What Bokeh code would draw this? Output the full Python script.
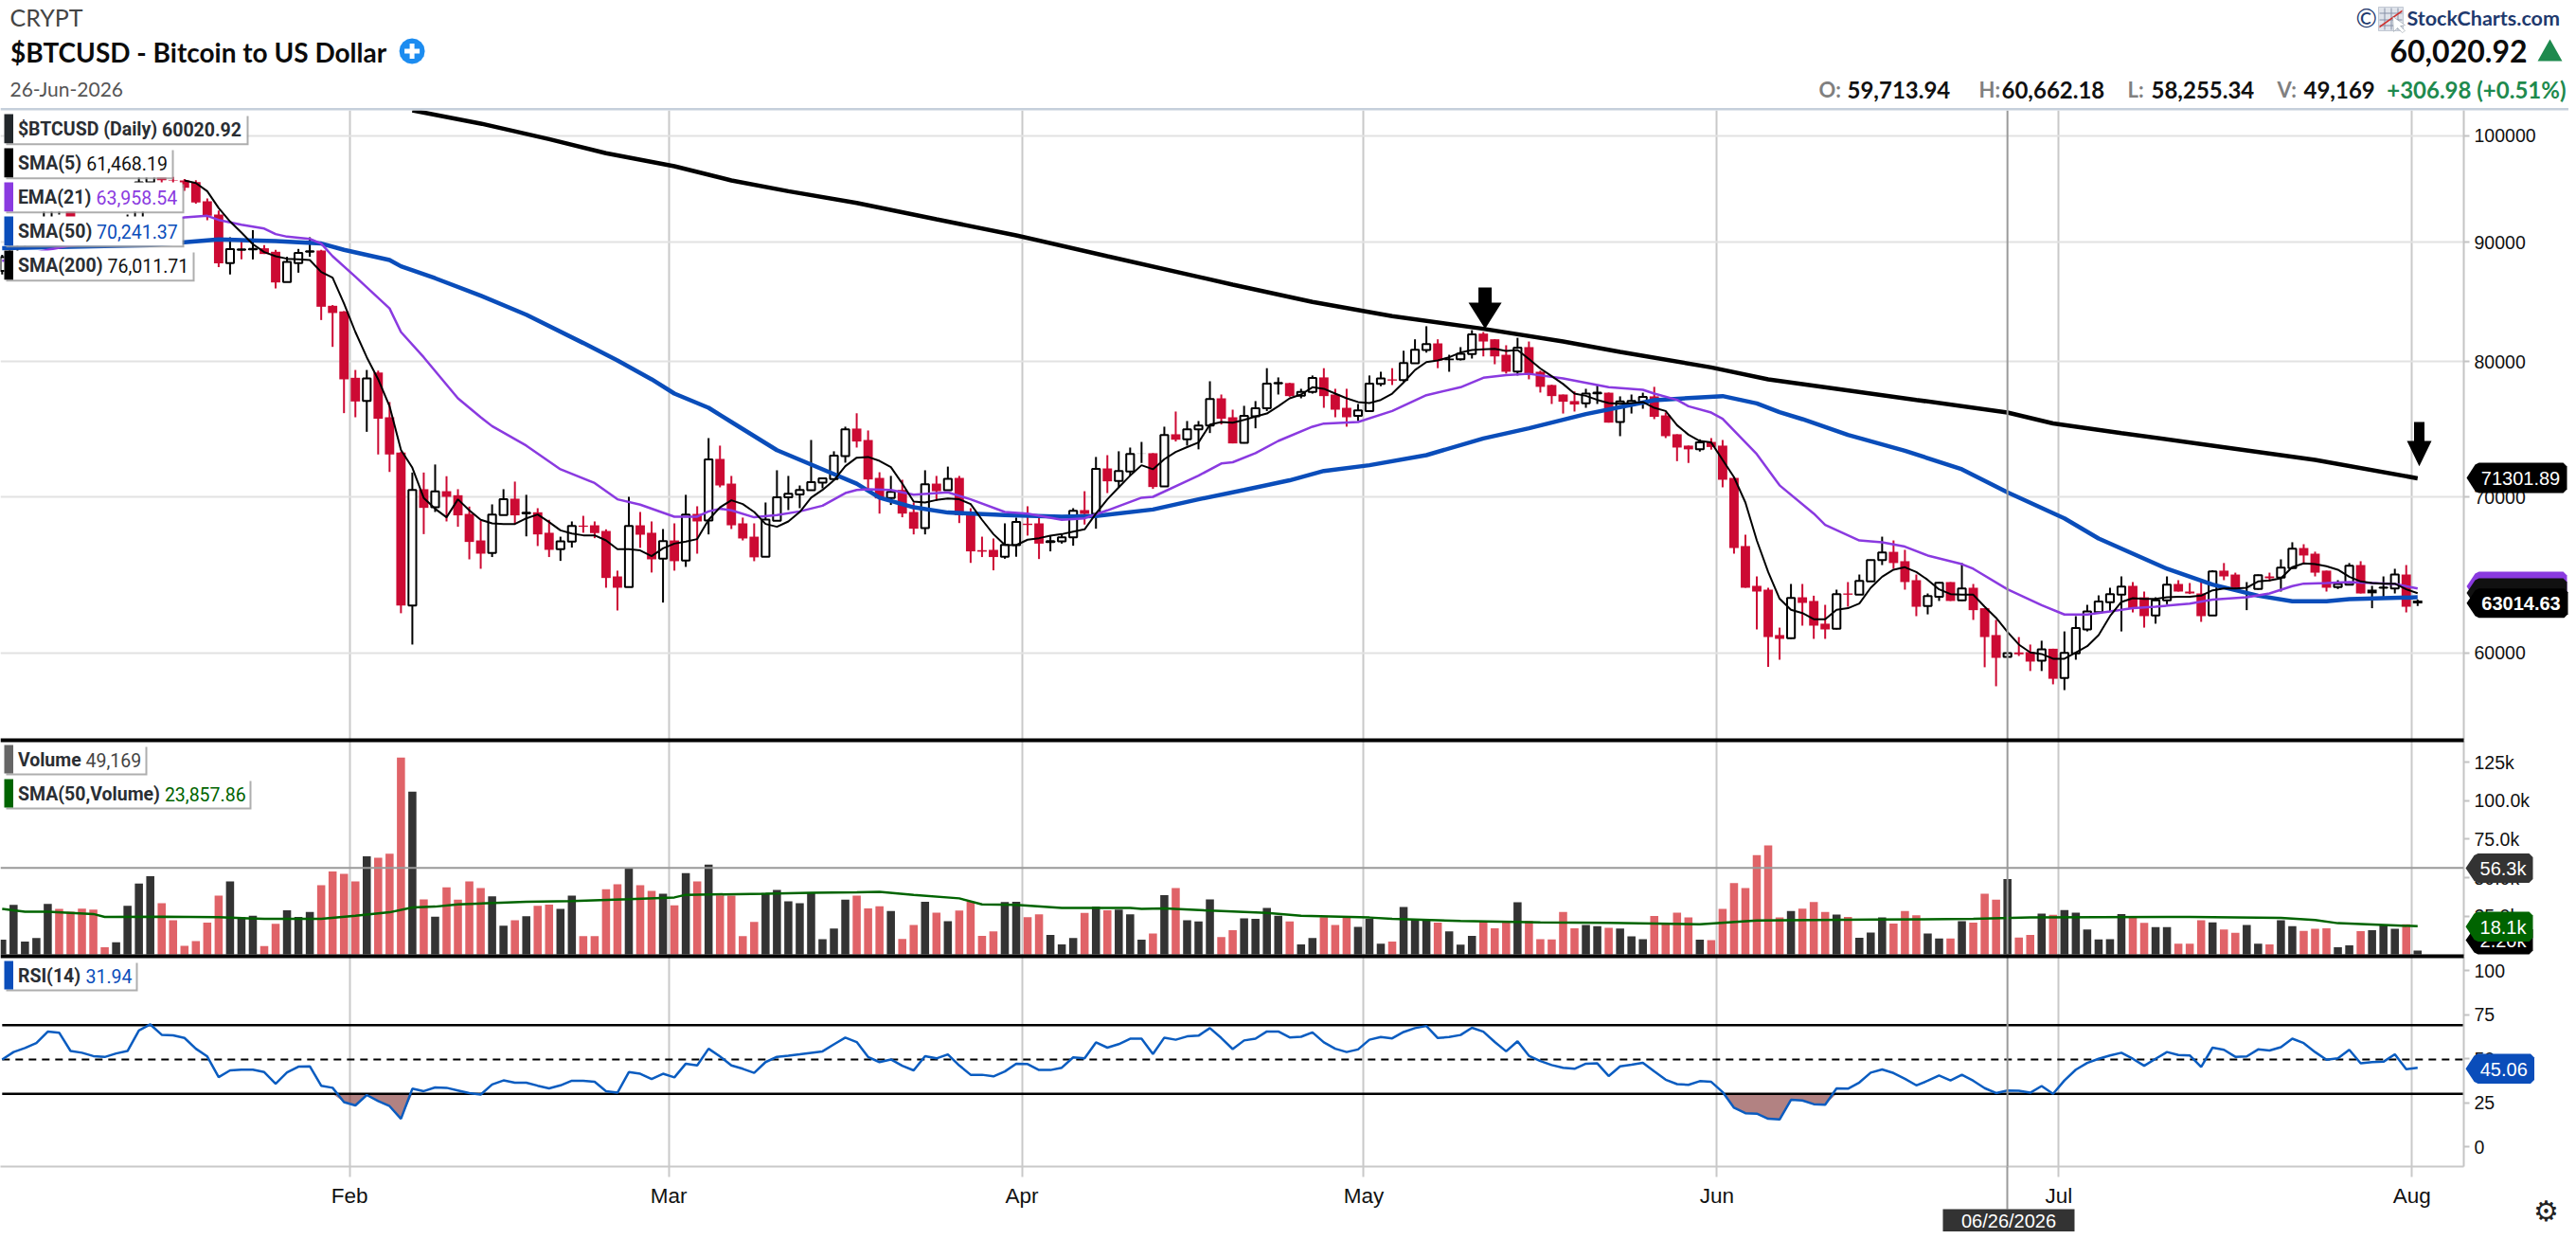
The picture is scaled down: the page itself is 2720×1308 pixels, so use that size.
from bokeh.embed import file_html
from bokeh.resources import INLINE
from bokeh.plotting import figure
from bokeh.layouts import column
from bokeh.models import (Range1d, FixedTicker, Grid, Label, BoxAnnotation, PolyAnnotation, Span,
                          ColumnDataSource)

# ---------- data ----------
opens = [87500,88700,89900,90500,91300,92900,93700,91200,91000,90600,
 90500,90900,91200,95500,96800,95700,95680,95520,93730,92510,
 88175,89340,89380,89480,89170,86540,88175,89180,89280,84540,
 84070,78740,76970,79150,75730,73130,62880,70540,69290,70400,
 70120,68840,67060,66230,68760,69880,68880,68950,67570,66480,
 66980,68050,68070,67690,64720,64040,68070,67570,65860,67060,
 65740,68840,68390,72680,70930,68200,67310,65990,68370,69970,
 70180,70470,71000,71250,72890,74890,74050,71330,69930,70490,
 68970,67880,70930,70470,71330,68930,66420,66440,65990,66750,
 68180,68200,66960,67000,67270,69100,68840,72000,71110,71780,
 73060,73090,70740,74470,74100,74840,75120,77160,75730,73840,
 75800,76400,78300,78330,77350,77640,78770,77450,76440,75830,
 76200,78260,78620,78570,79880,80930,81460,80250,80200,80600,
 82250,81790,80550,79230,81160,79210,78180,77450,76950,76780,
 77540,77590,75380,76680,76880,77310,75870,74470,73640,73370,
 73910,73640,71330,66690,64120,63880,61080,60890,63400,63170,
 61770,61460,63640,63560,64400,65780,66310,65700,64480,62850,
 63440,64360,63210,64000,62720,61080,59780,60040,60060,59550,
 60260,58540,59980,61420,62480,63090,63560,64120,63400,62270,
 63210,64240,63760,63640,62270,65090,64840,64020,63920,64720,
 64640,65250,66560,66190,65090,64040,64200,65450,63880,64000,
 63960,64840,63200]
highs = [88900,90800,90600,91500,93400,94700,94000,92000,91700,91000,
 91200,92500,96300,97000,97100,96000,95800,95700,94000,92880,
 90460,90180,91100,89760,89340,88730,89420,90460,89340,84600,
 84100,79350,79350,79300,76880,73200,71710,71710,72280,71450,
 70540,69340,68390,69490,70540,71070,70150,69230,68440,67310,
 68330,68710,68330,67800,65090,70010,68970,68330,67820,68200,
 70150,69360,74190,73640,71470,68590,68200,69620,71870,71470,
 70800,74050,71290,73230,75030,76030,74750,71730,71470,71200,
 69620,71870,71470,72130,71470,69230,67310,67190,68200,68590,
 69360,68590,67400,67480,69230,70400,72820,72950,73230,73500,
 73910,73100,75030,76160,75450,75450,78470,77450,76300,76590,
 76950,79490,78770,78350,77890,78920,79490,77890,77890,76730,
 78920,79210,79490,80870,81790,82850,81790,80550,81160,82530,
 82380,81800,81310,81910,81610,79300,78200,77450,77690,77890,
 78180,77600,77310,77450,77590,78040,76090,74470,73640,74100,
 74190,74050,71400,67440,64720,64000,61530,64240,64240,63500,
 62930,63880,64360,64840,65800,67310,67060,66440,64840,63640,
 64360,64360,65580,64240,62720,62000,60000,60960,60510,60740,
 60260,61300,62230,62930,63520,64000,64720,64360,63760,63400,
 64720,64480,64300,64480,65120,65580,64960,64360,64840,64960,
 65820,66940,66810,66320,65090,64480,65580,65700,64120,64720,
 65210,65450,63260]
lows = [87200,88300,89400,90000,90900,92500,90800,89700,89600,90100,
 90200,90000,91000,95000,95200,95200,94700,93500,92000,87820,
 87190,88500,88500,88975,86000,86540,87350,88730,83360,81180,
 76040,75730,74650,73000,71750,62410,60510,67480,68970,68330,
 67970,65820,65210,65970,68760,68180,67330,66690,65970,65720,
 66590,67570,67210,64000,62580,64040,66570,64970,63070,65090,
 65330,66190,67460,70670,67820,67060,65700,65990,68370,69100,
 69230,70470,70600,71200,72410,73500,70490,68860,69450,68610,
 67460,67460,69730,70470,68220,65590,65970,65110,65860,65990,
 67380,65840,66340,66850,66710,68120,67840,70270,70670,71490,
 72390,70560,70740,73940,73640,73370,74560,75190,73800,73800,
 74910,76200,77450,77280,77160,77520,76440,75730,75030,75450,
 76200,78090,78180,78420,79880,80720,79490,79210,80100,80250,
 80420,79800,79070,78920,78620,77600,76730,76010,76160,76440,
 76730,75330,74330,76010,76370,75590,74190,72520,72390,73210,
 73350,70670,66190,64000,61420,59190,59610,60850,61650,60850,
 60850,61420,62810,63560,64400,65450,65210,63880,62230,62340,
 63170,63170,63170,62000,59170,58070,59780,59830,58950,58950,
 58180,57850,59610,61300,62480,62500,61300,62460,61530,61770,
 62970,63760,63600,61880,62270,64480,63760,62600,63880,64400,
 63760,65210,65510,64720,63760,63920,64200,63640,62720,63400,
 63640,62460,62850]
closes = [88700,89900,90500,91300,92900,93700,91200,91000,90600,90500,
 90900,91200,95500,96800,95700,95650,94990,93610,92390,88150,
 89395,89380,89420,88975,86510,88290,89060,89220,84460,83940,
 78620,76920,78690,75620,73000,62880,70490,69250,70380,70010,
 68740,66960,66190,68800,69840,68740,68920,67460,66440,67000,
 68030,67970,67550,64620,64000,68030,67440,65820,67020,65700,
 68800,68330,72640,70800,68070,67190,65950,68460,69970,70230,
 70490,71030,71290,72910,74840,73940,71220,69900,70360,68860,
 67840,70890,70400,71260,68760,66340,66320,65970,66770,68290,
 68090,66850,67020,67270,69050,68840,71960,71090,71820,73040,
 73050,70690,74420,74070,74840,75120,77110,75620,73800,75830,
 76400,78280,78340,77330,77640,78720,77330,76300,75730,76250,
 78280,78690,78520,79900,80950,81410,80100,80120,80630,82180,
 81610,80420,79210,81110,79070,78040,77330,76900,76690,77520,
 77590,75330,76920,76970,77260,75760,74330,73500,73370,73870,
 73540,71200,66560,64000,63760,60960,60850,63360,63050,61650,
 61420,63600,63560,64440,65780,66270,65580,64360,62810,63480,
 64320,63170,63960,62600,60960,59720,60000,59930,59500,60220,
 58500,60020,61500,62520,63130,63600,64080,62720,62230,63210,
 64200,63760,63640,62230,65040,64720,64000,64010,64800,64600,
 65290,66520,66070,64960,64000,64240,65410,63640,63650,64020,
 64840,62810,63014]

sma5_first_day = 16
sma5 = [95680,95430,94660,93100,91880,90880,89840,89140,88780,88560,88510,88450,87410,86920,
 84730,82380,80350,78620,76560,73330,72050,69930,69190,68610,69840,69080,68440,68200,68160,68160,
 68540,68800,68290,67730,67520,67400,67400,67060,66480,66480,66400,66030,66540,66850,66980,67150,
 68440,69290,69770,69510,68970,68160,67970,68330,68970,69950,70490,71160,72160,72770,72820,72540,
 72090,70930,69680,69620,69790,69900,69840,69510,68440,67480,66770,66750,67110,67210,67380,67480,
 67650,67800,68860,69840,70670,71490,72230,71940,72660,73180,73530,73870,75190,75380,75330,75540,
 75780,76010,76560,77160,77450,78010,77890,77520,77160,76880,76800,77040,77520,78380,79350,79970,
 80100,80350,80730,80930,80980,81030,80850,80930,80220,79470,78860,78260,77520,77350,77040,76800,
 76750,76800,76880,76440,76200,75140,74440,73980,73870,72610,71380,69620,67060,65000,63310,62620,
 62420,62040,62040,62620,62720,63010,64000,64700,65150,65310,65000,64500,63900,63600,63560,63560,
 62810,62130,61270,60510,60040,59950,59670,59670,60040,60410,61080,62230,63110,63340,63300,63300,
 63400,63440,63440,63500,63840,63960,63960,64000,64400,64460,64600,65310,65560,65510,65370,65150,
 64700,64400,64300,64260,64260,63900,63660]

ema21_days = [0,4,7,16,18,19,21,23,24,25,27,28,29,31,34,35,37,40,42,43,46,49,52,54,56,59,61,62,63,64,66,68,70,72,74,
 75,76,78,80,83,85,88,90,93,95,97,100,101,105,107,108,110,112,115,116,119,122,125,128,130,132,134,137,141,144,145,147,148,150,
 151,154,156,159,160,163,165,167,169,172,173,176,179,181,183,185,187,189,192,194,197,199,201,202,204,206,208,210,212]
ema21 = [88370,89340,89900,92250,92390,92020,91590,91240,90740,90510,90310,89900,88780,87000,84320,82380,80350,77160,75730,75070,73640,71940,70970,69840,69470,68650,68650,69010,69190,69080,68610,68760,69010,69400,70270,
 70490,70540,70490,70160,70320,69840,68970,68860,68440,68540,69080,69950,70010,71490,72350,72440,73090,73980,75030,75260,75380,76200,77400,78010,78740,78950,79050,78690,78010,77810,77520,77040,76560,76080,
 75620,73020,70810,68860,68100,67060,66940,66650,66070,65510,65210,63900,62910,62330,62330,62520,62720,62810,63010,63260,63400,63640,64100,64260,64300,64360,64300,64240,63958]

sma50_days = [0,13,19,24,28,30,34,35,38,42,46,51,54,57,59,62,64,68,73,75,77,80,83,88,93,96,101,105,109,113,116,120,125,130,134,139,145,151,154,156,158,162,167,172,176,181,184,190,194,198,201,204,206,212]
sma50 = [89480,89760,90260,90120,89900,89340,88450,87900,86870,85390,83800,81490,80100,78620,77520,76440,75380,73310,71600,70920,69950,69290,68930,68760,68650,68700,69140,69840,70490,71160,71820,72230,72950,74160,74910,75970,77020,77330,76770,76110,75590,74420,73270,71940,70320,68540,67190,65210,64200,63500,63150,63150,63280,63400]

sma200_days = [36,42,48,53,59,64,69,75,82,89,97,108,115,122,130,137,142,150,155,161,168,176,180,186,194,203,212]
sma200 = [102530,101200,99660,98280,97030,95680,94660,93570,92080,90630,88780,86325,84860,83675,82640,81610,80780,79550,78620,77890,77040,76090,75270,74560,73640,72610,71302]

volume_k = [9.5,32.2,8.4,10.6,32.8,29.6,27.8,29.8,29.1,4.7,7.8,31.7,46.2,50.9,33.4,22.2,5.6,8.6,20.7,38.2,
 47.5,24.2,25.2,5.4,19.9,28.7,24.4,27.6,45.1,54.0,52.4,47.5,63.9,63.0,65.6,128.2,106.0,35.8,24.6,43.6,
 35.6,47.5,43.2,37.8,18.6,22.2,24.8,31.7,32.4,29.6,38.2,11.9,11.9,42.5,45.7,56.1,45.1,41.4,39.5,31.9,
 52.9,47.5,58.5,38.4,38.2,11.9,21.1,39.9,41.9,34.5,33.4,40.1,9.9,16.8,35.6,
 38.2,30.0,31.3,28.3,10.1,19.2,34.3,27.2,21.6,28.5,34.3,12.1,14.9,34.1,34.3,24.2,26.1,12.7,6.5,10.6,
 27.0,31.1,28.7,29.1,26.1,9.5,13.6,38.6,43.2,22.2,21.4,35.8,11.2,15.8,23.5,23.1,30.2,25.2,21.4,6.5,
 10.6,24.2,19.2,24.2,17.9,23.1,6.9,8.4,30.9,23.1,22.4,20.7,14.9,6.3,12.1,21.6,17.0,20.9,33.9,21.8,
 9.9,9.7,27.6,17.0,19.2,18.3,17.3,16.8,11.7,9.9,25.0,19.9,27.2,24.0,9.5,
 9.3,29.6,46.4,43.2,64.7,71.0,24.0,28.3,29.8,34.1,27.6,25.9,24.4,10.8,14.2,24.0,20.1,28.3,25.5,13.6,
 10.4,10.4,21.6,20.7,39.5,35.6,49.0,11.0,12.7,26.5,25.7,28.9,27.2,16.2,9.7,9.9,26.3,24.0,20.5,17.7,
 17.7,6.9,6.9,22.2,20.9,16.2,14.0,19.2,6.9,6.5,22.2,18.3,15.3,16.6,17.0,4.7,5.8,15.1,15.8,18.8,
 16.6,19.6,2.4]
volume_side = ("kkkkkrrrrrkkkkrrrrrr" "kkkrrkkkrrrrkrrrkrkr" "rrrkkrkrrkkrrrrkrrkr" "krkrrrrkkkkkkkk"
               "rrrkrrkrkrrrrkkrrkkk" "rkrkkkrkrkkkrrkkkkrk" "krrrkkkrkkkrkkkrrrkr" "rrrrkkrkkkrrrrk"
               "rrrrrrrkrrrkrkkkrrrk" "krkrrrkrrkrkkkkkkrrk" "krrrkrrkkrkkrrrkkrkk" "krk")

vol_sma_days = [0,2,4,8,9,14,19,23,28,31,34,36,38,40,46,50,55,59,60,67,71,75,77,80,84,86,89,93,99,100,102,106,111,114,120,122,128,135,141,149,154,164,173,178,184,192,200,203,205,212]
vol_sma_k = [29.6,27.8,27.8,26.3,24.4,24.6,24.2,23.1,23.1,25.2,27.4,30.6,31.1,32.6,34.3,34.7,36.0,37.1,38.8,39.5,40.1,40.4,40.8,38.8,36.5,32.6,32.2,30.2,30.2,29.6,30.0,28.5,27.0,25.2,24.0,23.1,21.8,20.9,20.5,19.6,22.0,22.7,23.1,24.0,24.2,24.4,23.7,22.4,20.3,18.3]

rsi = [49.6,53.8,56.1,58.9,65.4,64.8,54.4,53.4,51.5,51.0,53.0,54.4,66.1,69.5,63.6,63.3,61.8,55.7,51.3,39.6,
 43.4,43.8,43.8,42.4,35.8,42.2,45.5,45.7,34.7,33.5,25.4,23.5,29.4,26.0,23.1,15.9,33.0,31.6,33.7,33.5,
 32.0,30.5,29.7,35.4,37.7,36.4,36.4,34.7,33.2,34.9,37.5,37.5,36.9,31.6,30.7,42.4,41.5,38.5,41.5,39.4,
 47.2,46.2,55.7,51.3,46.2,44.3,42.0,48.1,51.1,51.7,52.5,53.4,54.2,58.2,62.0,
 59.5,51.0,48.1,49.6,46.0,43.4,51.5,50.2,52.5,46.2,40.9,40.9,40.0,42.8,47.2,47.0,43.6,43.6,44.9,50.8,
 50.2,59.3,56.3,58.3,61.4,61.4,52.7,62.0,60.8,62.7,63.1,67.4,61.8,55.5,60.4,61.4,65.5,65.5,62.1,62.5,
 65.0,59.3,55.7,53.8,55.3,60.8,62.3,61.6,65.2,67.4,68.6,61.8,62.3,63.5,67.6,65.4,59.5,54.2,59.9,51.7,
 48.7,46.4,44.9,44.3,47.2,47.4,40.2,45.7,46.6,47.7,42.8,38.1,35.6,35.2,37.3,
 36.9,31.1,22.2,19.1,18.8,15.9,15.5,26.7,26.3,24.2,23.9,33.2,33.0,36.5,42.1,43.9,41.9,38.6,34.9,37.5,
 40.5,37.7,40.9,37.5,33.3,30.5,32.0,31.8,30.7,34.5,30.1,37.7,43.8,47.6,50.0,51.9,53.4,50.0,46.0,50.0,
 53.8,52.1,51.9,45.3,56.3,55.1,51.1,51.3,55.3,54.7,56.6,61.4,58.9,53.8,49.4,50.2,55.1,47.4,48.1,48.3,
 52.5,44.1,44.9]
rsi_levels = [30.1, 49.6, 69.1]

price_ticks = [60000, 70000, 80000, 90000, 100000]
volume_ticks = [25, 50, 75, 100, 125]
volume_tick_labels = ["25.0k", "50.0k", "75.0k", "100.0k", "125k"]
rsi_ticks = [0, 25, 50, 75, 100]
month_edges = [30.5, 58.5, 89.5, 119.5, 150.5, 180.5, 211.5]
month_names = ["Feb", "Mar", "Apr", "May", "Jun", "Jul", "Aug"]
volume_reference_k = 56.3
crosshair_day = 176

# ---------- styling ----------
W = 2712
H = 1300
FRAME_R = 111
X_RANGE = Range1d(-0.15, 216.05)
GRID = "#c9c9c9"
HGRID = "#e2e2e2"
AXIS = "#c4c4c4"
RED = "#cc0a33"
BLUE = "#0a4dba"
PURPLE = "#8a3ae0"
GREEN = "#006400"
FG = "#2a2e33"
AX_FONT = "Liberation Sans"
LF = "Lato"


def base(height, bottom=0, x_loc=None, y_type="linear", y_range=(0, 1)):
    p = figure(width=W, height=height, x_range=X_RANGE, y_range=y_range, y_axis_type=y_type,
               y_axis_location="right", x_axis_location=x_loc, toolbar_location=None,
               output_backend="svg", min_border_left=0, min_border_right=FRAME_R,
               min_border_top=0, min_border_bottom=bottom, outline_line_color=None)
    p.xgrid.grid_line_color = None
    p.ygrid.grid_line_color = None
    return p


# a transparent sheet over the whole page holds the value tags, legends and header texts
over = figure(frame_width=W, frame_height=H, width=W, height=H, x_range=(0, 1), y_range=(0, 1),
              x_axis_location=None, y_axis_location=None, toolbar_location=None, output_backend="svg",
              min_border_left=0, min_border_right=0, min_border_top=0, min_border_bottom=0,
              outline_line_color=None, background_fill_alpha=0, border_fill_alpha=0,
              styles={"position": "absolute", "left": "0px", "top": "0px", "width": f"{W}px", "z-index": "10"})
over.xgrid.grid_line_color = None
over.ygrid.grid_line_color = None


def box(l, r, t, b, color, alpha=1.0, line=None):
    over.add_layout(BoxAnnotation(left=l, right=r, top=t, bottom=b,
                                  left_units="canvas", right_units="canvas", top_units="canvas", bottom_units="canvas",
                                  fill_color=color, fill_alpha=alpha, line_color=line, level="annotation"))


def poly(xs, ys, color, line=None):
    over.add_layout(PolyAnnotation(xs=list(xs), ys=list(ys), xs_units="canvas", ys_units="canvas",
                                   fill_color=color, fill_alpha=1, line_color=line, level="annotation"))


def text(x, y, s, size, color, font="Roboto", style="normal", align="left"):
    over.add_layout(Label(x=x, y=y, x_units="canvas", y_units="canvas", text=s, text_font=font,
                          text_font_size=f"{size}px", text_color=color, text_font_style=style,
                          text_align=align, text_baseline="middle", level="annotation"))


def legend_box(right, y0, y1, strip, label, value, value_x, value_color, value_style="normal"):
    box(6, right + 2, y0 + 2, y1 + 2, "#9a9a9a", 0.8)
    box(4, right, y0, y1, "white")
    box(4, 13.5, y0, y1, strip)
    mid = (y0 + y1) / 2 + 0.5
    text(18.4, mid, label, 19.5, FG, style="bold")
    text(value_x, mid, value, 19.5, value_color, style=value_style)


def pill(x0, x1, y0, y1, color, s, txt_size=20, style="normal"):
    m = (y0 + y1) / 2
    xs = [x0, x0 + 9, x0 + 13, x1 - 4, x1, x1, x1 - 4, x0 + 13, x0 + 9]
    ys = [m, y0 + 2, y0, y0, y0 + 4, y1 - 4, y1, y1, y1 - 2]
    poly(xs, ys, color)
    if s:
        text((x0 + x1) / 2 + 4, m + 0.5, s, txt_size, "white", font=AX_FONT, style=style, align="center")


def month_grid(p):
    p.add_layout(Grid(dimension=0, ticker=FixedTicker(ticks=month_edges), grid_line_color=GRID, grid_line_width=2))


def style_yaxis(p, ticks, overrides):
    ax = p.yaxis[0]
    ax.ticker = FixedTicker(ticks=ticks)
    ax.major_label_overrides = overrides
    ax.axis_line_color = AXIS
    ax.axis_line_width = 2
    ax.major_tick_line_color = AXIS
    ax.major_tick_line_width = 2
    ax.major_tick_in = 0
    ax.major_tick_out = 6
    ax.minor_tick_line_color = None
    ax.major_label_standoff = 5
    ax.major_label_text_font = AX_FONT
    ax.major_label_text_font_size = "19.5px"
    ax.major_label_text_color = "#111111"


def crosshair(p):
    p.add_layout(Span(location=crosshair_day, dimension="height", line_color="#9a9a9a", line_width=2))


# ---------- header ----------
head = base(116)
head.yaxis[0].visible = False
text(10, 17.5, "CRYPT", 25, "#444444", font=LF)
text(10.5, 54, "$BTCUSD - Bitcoin to US Dollar", 28, "#0c0c0c", font=LF, style="bold")
text(10, 93, "26-Jun-2026", 21, "#555555", font=LF)
circle_r = 13.5
cx, cy = 434.6, 53.5
poly([cx + circle_r * c for c in (1, .924, .707, .383, 0, -.383, -.707, -.924, -1, -.924, -.707, -.383, 0, .383, .707, .924)],
     [cy + circle_r * s for s in (0, .383, .707, .924, 1, .924, .707, .383, 0, -.383, -.707, -.924, -1, -.924, -.707, -.383)],
     "#1c8cf0")
box(cx - 8, cx + 8, cy - 2.5, cy + 2.5, "white")
box(cx - 2.5, cx + 2.5, cy - 8, cy + 8, "white")

text(2487, 17.5, "©", 27, "#1f3a6e", font=LF)
box(2511, 2537, 7, 32, "#dfe3ea", line="#5a6a88")
for gx in (2517, 2524, 2531):
    box(gx, gx + 1, 8, 31, "#8892a8")
for gy in (13, 20, 26):
    box(2512, 2536, gy, gy + 1, "#8892a8")
poly([2512, 2536, 2536, 2512], [27, 10, 12, 29], "#d0312d")
poly([2526, 2539, 2534, 2539, 2536, 2531, 2527], [17, 26, 27, 32, 34, 29, 33], "white", line="#445566")
text(2541, 18, "StockCharts.com", 21.5, "#1f3a6e", font=LF, style="bold")
text(2668, 53.5, "60,020.92", 32, "#0c0c0c", font=LF, style="bold", align="right")
poly([2679, 2692, 2705], [64, 41, 64], "#1e8a4e")
for x, s in ((1920, "O:"), (2089, "H:"), (2246, "L:"), (2404, "V:")):
    text(x, 94, s, 22, "#808080", font=LF, style="bold")
for x, s in ((1950, "59,713.94"), (2113, "60,662.18"), (2271, "58,255.34"), (2432, "49,169")):
    text(x, 94, s, 24, "#111111", font=LF, style="bold")
text(2709, 94, "+306.98 (+0.51%)", 24, "#1e8a4e", font=LF, style="bold", align="right")
box(0, W, 113.5, 116, "#c5cfdb")

# ---------- price panel ----------
price = base(665, y_type="log", y_range=Range1d(55054, 102530))
month_grid(price)
style_yaxis(price, price_ticks, {t: str(t) for t in price_ticks})
price.add_layout(Grid(dimension=1, ticker=FixedTicker(ticks=price_ticks), grid_line_color=HGRID, grid_line_width=2))
crosshair(price)

days = list(range(len(closes)))
prev_closes = [opens[0]] + closes[:-1]
body_colors = ["black" if c >= pc else RED for c, pc in zip(closes, prev_closes)]
is_hollow = [c > o for c, o in zip(closes, opens)]
candles = ColumnDataSource(dict(day=days, open=opens, high=highs, low=lows, close=closes, color=body_colors))
price.segment("day", "high", "day", "low", source=candles, line_color="color", line_width=2)
solid = [i for i in days if not is_hollow[i]]
hollow = [i for i in days if is_hollow[i]]
price.vbar(x=solid, width=0.82, bottom=[min(opens[i], closes[i]) for i in solid],
           top=[max(opens[i], closes[i]) for i in solid], fill_color=[body_colors[i] for i in solid], line_color=None)
price.vbar(x=hollow, width=0.68, bottom=[opens[i] for i in hollow],
           top=[closes[i] for i in hollow], fill_color="white", line_color="black", line_width=2)

price.line(sma200_days, sma200, line_color="black", line_width=4.5)
price.line(sma50_days, sma50, line_color=BLUE, line_width=4.5)
price.line(ema21_days, ema21, line_color=PURPLE, line_width=2.5)
price.line(list(range(sma5_first_day, sma5_first_day + len(sma5))), sma5, line_color="black", line_width=2)

for ax_x, tip, shaft_top, neck, hw, sw in ((1567.6, 346.7, 303, 319, 17.5, 7), (2554, 491.7, 445, 465, 13, 5.5)):
    poly([ax_x - sw, ax_x + sw, ax_x + sw, ax_x + hw, ax_x, ax_x - hw, ax_x - sw],
         [shaft_top, shaft_top, neck, neck, tip, neck, neck], "black")

legend_box(260, 120, 150.7, "#22272b", "$BTCUSD (Daily)", "60020.92", 170.5, FG, "bold")
legend_box(181, 156, 186.7, "black", "SMA(5)", "61,468.19", 90.7, "#111111")
legend_box(192, 192, 222.7, PURPLE, "EMA(21)", "63,958.54", 101, PURPLE)
legend_box(192, 228, 258.7, BLUE, "SMA(50)", "70,241.37", 101.6, BLUE)
legend_box(203, 264, 294.7, "black", "SMA(200)", "76,011.71", 113, "#111111")

pill(2604, 2710, 488, 520, "black", "71301.89")
pill(2604, 2710, 603, 634, PURPLE, "")
pill(2604, 2710, 610, 641, "#111111", "")
pill(2604, 2711, 620.7, 651.7, "black", "63014.63", style="bold")
box(0, 2601, 779, 783, "black")

# ---------- volume panel ----------
vol = base(228, y_range=Range1d(-1.23, 139.5))
month_grid(vol)
style_yaxis(vol, volume_ticks, dict(zip(volume_ticks, volume_tick_labels)))
crosshair(vol)
vol.vbar(x=days, width=0.71, bottom=0, top=volume_k,
         fill_color=["#e06368" if s == "r" else "#333333" for s in volume_side], line_color=None)
vol.add_layout(Span(location=volume_reference_k, dimension="width", line_color="#9a9a9a", line_width=2))
vol.line(vol_sma_days, vol_sma_k, line_color=GREEN, line_width=2.5)
legend_box(153, 786, 816, "#666666", "Volume", "49,169", 90, "#444444")
legend_box(263, 822, 852, GREEN, "SMA(50,Volume)", "23,857.86", 173.4, GREEN)
pill(2603, 2674, 900.5, 931.6, "#333333", "56.3k")
pill(2603, 2674, 977, 1007, "black", "2.20k")
pill(2603, 2674, 962, 993.5, GREEN, "18.1k")
box(0, 2601, 1007, 1011, "black")

# ---------- RSI panel ----------
rsi_fig = base(291, bottom=69, x_loc="below", y_range=Range1d(-11.2, 108.2))
month_grid(rsi_fig)
style_yaxis(rsi_fig, rsi_ticks, {t: str(t) for t in rsi_ticks})
crosshair(rsi_fig)
oversold = [min(v, rsi_levels[0]) for v in rsi]
rsi_fig.varea(x=days, y1=oversold, y2=[rsi_levels[0]] * len(days), fill_color="#7e2f2f", fill_alpha=0.6)
level_x = [days[0], 216.05]
rsi_fig.line(level_x, [rsi_levels[2]] * 2, line_color="black", line_width=2.5)
rsi_fig.line(level_x, [rsi_levels[0]] * 2, line_color="black", line_width=2.5)
rsi_fig.line(level_x, [rsi_levels[1]] * 2, line_color="black", line_width=2, line_dash="8 6")
rsi_fig.line(days, rsi, line_color="#0a5cc0", line_width=2.5)
xa = rsi_fig.xaxis[0]
xa.ticker = FixedTicker(ticks=month_edges)
xa.major_label_overrides = dict(zip(month_edges, month_names))
xa.axis_line_color = GRID
xa.axis_line_width = 2
xa.major_tick_line_color = GRID
xa.major_tick_line_width = 2
xa.major_tick_in = 0
xa.major_tick_out = 11
xa.minor_tick_line_color = None
xa.major_label_standoff = 7
xa.major_label_text_font = AX_FONT
xa.major_label_text_font_size = "22.5px"
xa.major_label_text_color = "#111111"
legend_box(143, 1014, 1044, BLUE, "RSI(14)", "31.94", 90, BLUE)
pill(2603, 2675.5, 1112, 1143.4, BLUE, "45.06")
box(2118, 2120, 1231, 1276, "#9a9a9a")
box(2051, 2190, 1276, 1300, "#333333")
text(2120.5, 1288.5, "06/26/2026", 20, "white", font=AX_FONT, align="center")
text(2688, 1278, "⚙", 30, "#222222", font="DejaVu Sans", align="center")

page = column(head, price, vol, rsi_fig, over, spacing=0, width=W, height=H)
open("out.html", "w").write(file_html(page, INLINE))
